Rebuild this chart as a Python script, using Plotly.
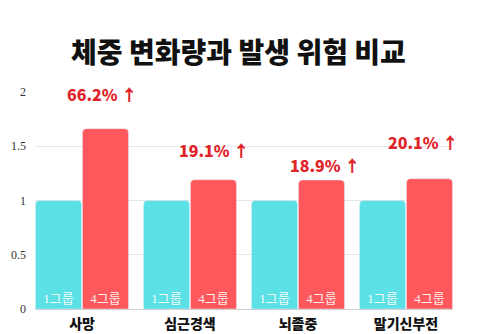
import plotly.graph_objects as go

categories = ["사망", "심근경색", "뇌졸중", "말기신부전"]
group1_values = [1.0, 1.0, 1.0, 1.0]
group4_values = [1.662, 1.191, 1.189, 1.201]
increase_labels = ["66.2% ↑", "19.1% ↑", "18.9% ↑", "20.1% ↑"]
series_names = ["1그룹", "4그룹"]
y_ticks = [0, 0.5, 1, 1.5, 2]
y_tick_text = ["0", "0.5", "1", "1.5", "2"]

# label offsets (pixels) for the increase annotations - styling only
label_xshift = [-4, 0, 3, -7]
label_yshift = [35, 30, 15, 37]

CYAN = "#5BE0E5"
RED = "#FF585C"
inside_font = dict(family="Liberation Serif, Noto Sans CJK KR", size=13, color="rgba(255,255,255,0.92)")

fig = go.Figure()
fig.add_trace(go.Bar(
    x=categories, y=group1_values, name=series_names[0], marker_color=CYAN,
    text=[series_names[0]] * len(categories), textposition="inside",
    insidetextanchor="start", textangle=0, insidetextfont=inside_font,
    hoverinfo="skip",
))
fig.add_trace(go.Bar(
    x=categories, y=group4_values, name=series_names[1], marker_color=RED,
    text=[series_names[1]] * len(categories), textposition="inside",
    insidetextanchor="start", textangle=0, insidetextfont=inside_font,
    hoverinfo="skip",
))

slot = 108.0
bar_offset = 23.5 / slot
for i, (lab, v) in enumerate(zip(increase_labels, group4_values)):
    fig.add_annotation(
        x=i + bar_offset, y=v, xref="x", yref="y", text=lab, showarrow=False,
        xanchor="center", yanchor="middle",
        xshift=label_xshift[i], yshift=label_yshift[i],
        font=dict(family="Noto Sans CJK KR", size=16, color="#E0242A", weight=900),
    )

fig.update_layout(
    width=500, height=334,
    margin=dict(l=35, r=47, t=92, b=25, autoexpand=False),
    paper_bgcolor="white", plot_bgcolor="white",
    barmode="group", bargap=14 / 108, bargroupgap=0.02,
    barcornerradius=4,
    showlegend=False,
    title=dict(
        text="체중 변화량과 발생 위험 비교", x=238.5 / 500, xanchor="center",
        xref="container", y=1 - 53 / 334, yanchor="middle", yref="container",
        font=dict(family="Noto Sans CJK KR", size=28, color="#111111", weight=900),
    ),
    xaxis=dict(
        type="category", range=[-0.5 + 7 / 108, 3.5 - 7 / 108],
        showgrid=False, showline=True, linecolor="#cfcfcf", linewidth=1,
        ticks="", ticklabelstandoff=2, automargin=False,
        tickfont=dict(family="Noto Sans CJK KR", size=14, color="#111111", weight=900),
        fixedrange=True,
    ),
    yaxis=dict(
        range=[0, 2], tickvals=y_ticks, ticktext=y_tick_text,
        showgrid=True, gridcolor="#e6e6e6", gridwidth=1, zeroline=False,
        ticks="", ticklabelstandoff=8, automargin=False,
        tickfont=dict(family="Liberation Serif", size=12, color="#333333"),
        fixedrange=True,
    ),
)

fig.write_html("out.html")
